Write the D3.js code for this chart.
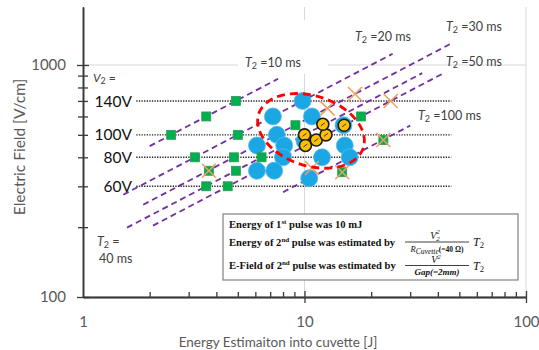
<!DOCTYPE html>
<html>
<head>
<meta charset="utf-8">
<script src="https://cdn.jsdelivr.net/npm/d3@7"></script>
<style>
body { margin: 0; background: #fff; }
svg { display: block; font-family: Lato, "Open Sans", sans-serif; }
</style>
</head>
<body>
<svg width="539" height="350"></svg>
<script>
// ---- datos ----
const xTickLabels = [1, 10, 100];
const yTickLabels = [100, 1000];
const xMinorTicks = [2, 3, 4, 5, 6, 7, 8, 9, 20, 30, 40, 50, 60, 70, 80, 90];
const yMinorTicks = [200, 300, 400, 500, 600, 700, 800, 900];

// niveles de V2 (lineas punteadas)
const voltLabels = ['140V', '100V', '80V', '60V'];
const voltField = [700, 500, 400, 300];
const voltLineEnergy = [1.74, 46]; // de donde a donde va la linea punteada

// lineas de T2 constante [energia, campo] inicio y fin
const t2Names = ['10', '20', '30', '40', '50', '100'];
const t2Start = [[2.0, 447], [1.52, 276], [1.87, 250], [1.58, 199], [2.07, 203], [8.0, 283]];
const t2End = [[7.6, 872], [25, 1118], [46, 1238], [34, 922], [42, 917], [30, 548]];

// circulos azules
const blueEnergy = [9.8, 7.2, 10.8, 7.5, 6.1, 8.1, 10.0, 15.0, 15.2, 12.0, 8.0, 16.0, 6.1, 7.3, 10.5];
const blueField = [700, 600, 600, 500, 450, 450, 470, 550, 450, 400, 400, 400, 350, 350, 325];

// cuadrados verdes
const greenEnergy = [4.9, 3.6, 2.5, 5.0, 3.2, 4.8, 6.4, 3.7, 4.9, 3.6, 4.5, 9.1, 18.0, 22.7, 14.8];
const greenField = [700, 600, 500, 500, 400, 400, 400, 350, 350, 300, 300, 550, 600, 475, 345];

// cruces naranjas
const crossEnergy = [16.9, 24.5, 12.7, 10.8, 3.7, 22.7, 14.8];
const crossField = [750, 700, 650, 360, 350, 475, 345];

// circulos amarillos
const goldEnergy = [10.0, 10.1, 11.3, 12.5, 12.1, 15.1];
const goldField = [500, 450, 475, 500, 555, 550];

// elipse roja (centro)
const ellipseCenter = [10.7, 520];

// ---- escalas ----
const svg = d3.select('svg');
const x = d3.scaleLog().domain([1, 100]).range([83, 526]);
const y = d3.scaleLog().domain([100, 1778]).range([297, 7]);

const axisColor = '#3a3a3a';
const labelColor = '#595959';

// lineas de cuadricula
svg.append('line')
  .attr('x1', x(1)).attr('x2', x(100))
  .attr('y1', y(1000)).attr('y2', y(1000))
  .attr('stroke', '#d9d9d9').attr('stroke-width', 1);
[10, 100].forEach(v => {
  svg.append('line')
    .attr('x1', x(v)).attr('x2', x(v))
    .attr('y1', y(1778)).attr('y2', y(100))
    .attr('stroke', '#d9d9d9').attr('stroke-width', 1);
});

// cajas blancas de las etiquetas (tapan la cuadricula)
svg.append('rect').attr('x', 238).attr('y', 52).attr('width', 90).attr('height', 22).attr('fill', '#fff');
svg.append('rect').attr('x', 298).attr('y', 20).attr('width', 118).attr('height', 32).attr('fill', '#fff');

// ---- ejes ----
function styleAxis(g) {
  g.select('.domain').attr('stroke', axisColor).attr('stroke-width', 1.3);
  g.selectAll('.tick line').attr('stroke', axisColor).attr('stroke-width', 1.3);
  g.selectAll('.tick text').attr('fill', labelColor).attr('font-size', 15)
    .attr('font-family', 'Lato, sans-serif');
}

const gx = svg.append('g').attr('transform', `translate(0,${y(100)})`);
gx.append('g').call(d3.axisBottom(x).tickValues(xMinorTicks).tickSize(-5).tickSizeOuter(0).tickFormat(''))
  .call(styleAxis);
gx.append('g').call(d3.axisBottom(x).tickValues([10, 100]).tickSize(6).tickSizeOuter(0).tickFormat(''))
  .call(styleAxis);
gx.append('g').call(d3.axisBottom(x).tickValues([10, 100]).tickSize(-6).tickSizeOuter(0).tickFormat(''))
  .call(styleAxis);
gx.append('g').call(d3.axisBottom(x).tickValues(xTickLabels).tickSize(0).tickPadding(19).tickSizeOuter(0).tickFormat(d3.format('d')))
  .call(styleAxis)
  .call(g => g.select('.domain').remove());

const gy = svg.append('g').attr('transform', `translate(${x(1)},0)`);
gy.append('g').call(d3.axisLeft(y).tickValues(yMinorTicks).tickSize(5).tickSizeOuter(0).tickFormat(''))
  .call(styleAxis);
gy.append('g').call(d3.axisLeft(y).tickValues(yMinorTicks).tickSize(-5).tickSizeOuter(0).tickFormat(''))
  .call(styleAxis);
gy.append('g').call(d3.axisLeft(y).tickValues(yTickLabels).tickSize(6).tickSizeOuter(0).tickFormat(''))
  .call(styleAxis);
gy.append('g').call(d3.axisLeft(y).tickValues(yTickLabels).tickSize(-6).tickSizeOuter(0).tickFormat(''))
  .call(styleAxis);
gy.append('g').call(d3.axisLeft(y).tickValues(yTickLabels).tickSize(0).tickPadding(17).tickSizeOuter(0).tickFormat(d3.format('d')))
  .call(styleAxis)
  .call(g => g.select('.domain').remove());

// titulos de ejes
svg.append('text')
  .attr('transform', 'translate(25,147) rotate(-90)')
  .attr('text-anchor', 'middle')
  .attr('fill', labelColor)
  .attr('font-size', 15.5)
  .text('Electric Field  [V/cm]');

svg.append('text')
  .attr('x', 278).attr('y', 347)
  .attr('text-anchor', 'middle')
  .attr('fill', labelColor)
  .attr('font-size', 13.5)
  .text('Energy Estimaiton into cuvette [J]');

// ---- lineas punteadas de V2 ----
voltField.forEach((f, i) => {
  svg.append('line')
    .attr('x1', x(voltLineEnergy[0])).attr('x2', x(voltLineEnergy[1]))
    .attr('y1', y(f)).attr('y2', y(f))
    .attr('stroke', '#222').attr('stroke-width', 1.4)
    .attr('stroke-dasharray', '1.3 1.3');
  svg.append('text')
    .attr('x', 132).attr('y', y(f)).attr('dy', '0.36em')
    .attr('text-anchor', 'end')
    .attr('font-size', 15.5)
    .attr('fill', '#111')
    .text(voltLabels[i]);
});

// "V2 ="
const v2 = svg.append('text').attr('x', 93).attr('y', 82).attr('font-size', 12).attr('fill', '#404040');
v2.append('tspan').attr('font-style', 'italic').text('V');
v2.append('tspan').attr('font-size', 9).attr('dy', 2).text('2');
v2.append('tspan').attr('dy', -2).text(' =');

// ---- lineas de T2 ----
t2Start.forEach((s, i) => {
  svg.append('line')
    .attr('x1', x(s[0])).attr('y1', y(s[1]))
    .attr('x2', x(t2End[i][0])).attr('y2', y(t2End[i][1]))
    .attr('stroke', '#7030a0').attr('stroke-width', 1.8)
    .attr('stroke-dasharray', '6 4');
});

// etiquetas T2
function t2Label(px, py, txt) {
  const t = svg.append('text').attr('x', px).attr('y', py).attr('font-size', 12.5).attr('fill', '#404040');
  t.append('tspan').attr('font-style', 'italic').text('T');
  t.append('tspan').attr('font-size', 9).attr('dy', 2).text('2');
  t.append('tspan').attr('dy', -2).text(txt);
}
t2Label(245, 67, ' =' + t2Names[0] + ' ms');
t2Label(355, 41, ' =' + t2Names[1] + ' ms');
t2Label(446, 31, ' =' + t2Names[2] + ' ms');
t2Label(446, 66, ' =' + t2Names[4] + ' ms');
t2Label(418, 120, ' =' + t2Names[5] + ' ms');
t2Label(97, 246, ' =');
svg.append('text').attr('x', 99).attr('y', 263).attr('font-size', 12.5).attr('fill', '#404040')
  .text(t2Names[3] + ' ms');

// ---- marcas ----
svg.append('g').selectAll('circle')
  .data(blueEnergy)
  .join('circle')
  .attr('cx', d => x(d))
  .attr('cy', (d, i) => y(blueField[i]))
  .attr('r', 8.5)
  .attr('fill', '#1ba6e4')
  .attr('stroke', '#5cbde8')
  .attr('stroke-width', 0.8);

svg.append('g').selectAll('rect')
  .data(greenEnergy)
  .join('rect')
  .attr('x', d => x(d) - 4.5)
  .attr('y', (d, i) => y(greenField[i]) - 4.5)
  .attr('width', 9).attr('height', 9)
  .attr('fill', '#00b050')
  .attr('stroke', '#2f9a4f')
  .attr('stroke-width', 0.8);

const cross = svg.append('g').selectAll('g')
  .data(crossEnergy)
  .join('g')
  .attr('transform', (d, i) => `translate(${x(d)},${y(crossField[i])})`);
cross.append('line').attr('x1', -7).attr('y1', -7).attr('x2', 7).attr('y2', 7);
cross.append('line').attr('x1', -7).attr('y1', 7).attr('x2', 7).attr('y2', -7);
cross.selectAll('line').attr('stroke', '#f0a060').attr('stroke-width', 1.5);

const gold = svg.append('g').selectAll('g')
  .data(goldEnergy)
  .join('g')
  .attr('transform', (d, i) => `translate(${x(d)},${y(goldField[i])})`);
gold.append('circle').attr('r', 6)
  .attr('fill', '#ffc000').attr('stroke', '#1a1a1a').attr('stroke-width', 1.6);
gold.append('line').attr('x1', -2).attr('y1', 1.5).attr('x2', 2).attr('y2', -1.5)
  .attr('stroke', '#333').attr('stroke-width', 1);

// elipse roja
svg.append('ellipse')
  .attr('transform', `translate(${x(ellipseCenter[0])},${y(ellipseCenter[1])}) rotate(18)`)
  .attr('rx', 55).attr('ry', 35)
  .attr('fill', 'none')
  .attr('stroke', '#ff0000')
  .attr('stroke-width', 2.8)
  .attr('stroke-dasharray', '8 5');

// ---- cuadro de texto ----
const box = svg.append('g').attr('font-family', '"Liberation Serif", "DejaVu Serif", serif')
  .attr('font-weight', 'bold').attr('fill', '#111');
box.append('rect')
  .attr('x', 223).attr('y', 214).attr('width', 295).attr('height', 66)
  .attr('fill', '#fff').attr('stroke', '#808080').attr('stroke-width', 1.2);

function boxLine(py, a, sup, b) {
  const t = box.append('text').attr('x', 229).attr('y', py).attr('font-size', 10.6);
  t.append('tspan').text(a);
  t.append('tspan').attr('font-size', 7).attr('dy', -4).text(sup);
  t.append('tspan').attr('dy', 4).text(b);
}
boxLine(228, 'Energy of 1', 'st', ' pulse was 10 mJ');
boxLine(246, 'Energy of 2', 'nd', ' pulse was estimated by');
boxLine(269, 'E-Field of 2', 'nd', ' pulse was estimated by');

// fraccion 1
const f1 = box.append('g').attr('font-weight', 'normal').attr('font-style', 'italic');
const n1 = f1.append('text').attr('x', 435).attr('y', 239).attr('text-anchor', 'middle').attr('font-size', 10);
n1.append('tspan').text('V');
n1.append('tspan').attr('font-size', 7).attr('dy', 2).text('2');
n1.append('tspan').attr('font-size', 7).attr('dx', -3.5).attr('dy', -7).text('2');
f1.append('line').attr('x1', 405).attr('x2', 469).attr('y1', 242).attr('y2', 242)
  .attr('stroke', '#111').attr('stroke-width', 0.8);
const d1 = f1.append('text').attr('x', 437).attr('y', 252).attr('text-anchor', 'middle').attr('font-size', 8.5);
d1.append('tspan').text('R');
d1.append('tspan').attr('font-size', 7.5).attr('dy', 1.5).text('Cuvette');
d1.append('tspan').attr('font-style', 'normal').attr('font-weight', 'bold').attr('font-size', 7.5).attr('dy', -1.5).text('(=40 Ω)');
const tt1 = f1.append('text').attr('x', 473).attr('y', 246).attr('font-size', 12);
tt1.append('tspan').text('T');
tt1.append('tspan').attr('font-style', 'normal').attr('font-size', 8.5).attr('dy', 2).text('2');

// fraccion 2
const f2 = box.append('g').attr('font-weight', 'normal').attr('font-style', 'italic');
const n2 = f2.append('text').attr('x', 436).attr('y', 263).attr('text-anchor', 'middle').attr('font-size', 10);
n2.append('tspan').text('V');
n2.append('tspan').attr('font-size', 7).attr('dy', -4).text('2');
f2.append('line').attr('x1', 405).attr('x2', 469).attr('y1', 265.5).attr('y2', 265.5)
  .attr('stroke', '#111').attr('stroke-width', 0.8);
f2.append('text').attr('x', 437).attr('y', 275).attr('text-anchor', 'middle').attr('font-size', 9)
  .attr('font-weight', 'bold').text('Gap(=2mm)');
const tt2 = f2.append('text').attr('x', 473).attr('y', 270).attr('font-size', 12);
tt2.append('tspan').text('T');
tt2.append('tspan').attr('font-style', 'normal').attr('font-size', 8.5).attr('dy', 2).text('2');
</script>
</body>
</html>
